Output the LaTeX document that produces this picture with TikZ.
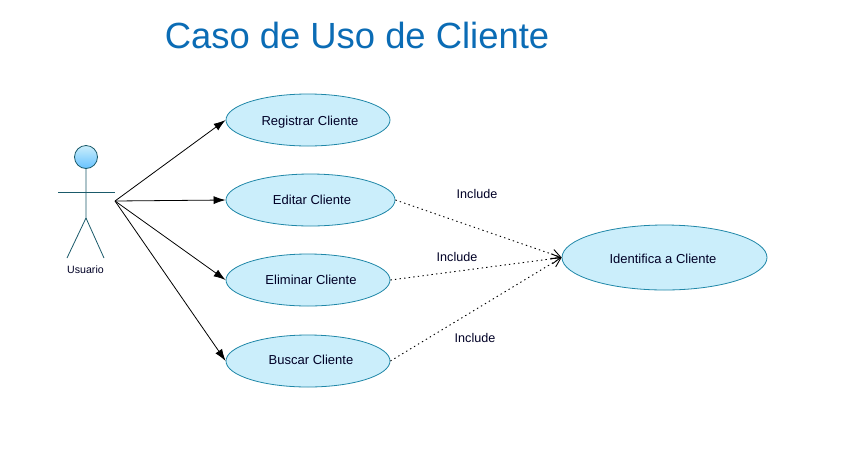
\documentclass[tikz,border=0pt]{standalone}
\usepackage{fontspec}
\setmainfont{Liberation Sans}
\usetikzlibrary{shapes.geometric,arrows.meta}
\definecolor{uefill}{HTML}{CBEEFB}
\definecolor{uedraw}{HTML}{1F87A8}
\definecolor{actline}{HTML}{1A5A6A}
\definecolor{titleblue}{HTML}{0B6CB5}
\newcommand{\ucshift}[1]{\hspace*{#1}}
\tikzset{
  usecase/.style={ellipse,draw=uedraw,fill=uefill,line width=0.8pt,inner sep=0pt,font=\fontsize{13}{14}\selectfont,text=black!85!blue,text depth=2.7pt},
  assoc/.style={-{Latex[length=12pt,width=8pt]},line width=0.8pt,black},
  incl/.style={-{Straight Barb[length=9pt,width=10pt]},line width=0.9pt,black,dash pattern=on 1.4pt off 3.2pt},
  lbl/.style={font=\fontsize{12.6}{14}\selectfont,text=black!85!blue},
  actorline/.style={actline,line width=0.8pt}
}
\begin{document}
\begin{tikzpicture}[x=1pt,y=-1pt]
\useasboundingbox (0,0) rectangle (850,464);
\fill[white] (0,0) rectangle (850,464);
\node[font=\fontsize{36.4}{40}\selectfont,text=titleblue] (title) at (357,35) {Caso de Uso de Cliente};
% actor
\node[circle,draw=actline,line width=0.8pt,minimum size=23pt,inner sep=0pt,top color=uefill,bottom color=cyan!60!blue!60] (head) at (86,157) {};
\coordinate (hip) at (86,218);
\coordinate (larm) at (58,192);
\coordinate (rarm) at (115,192);
\coordinate (lfoot) at (67,258);
\coordinate (rfoot) at (104,258);
\draw[actorline] (head.south) -- (hip) -- (lfoot);
\draw[actorline] (hip) -- (rfoot);
\draw[actorline] (larm) -- (rarm);
\node[font=\fontsize{10.6}{12}\selectfont,text=black!85!blue] (usuario) at (85.5,269.5) {Usuario};
\coordinate (hub) at (115,201);
% use cases
\node[usecase,minimum width=164pt,minimum height=52pt,text height=13pt] (reg) at (308,120) {\ucshift{4pt}Registrar Cliente};
\node[usecase,minimum width=169pt,minimum height=52pt,text height=12pt] (edi) at (310.5,200) {\ucshift{3pt}Editar Cliente};
\node[usecase,minimum width=164pt,minimum height=52pt,text height=12pt] (eli) at (308,280) {\ucshift{6pt}Eliminar Cliente};
\node[usecase,minimum width=164pt,minimum height=52pt,text height=10.5pt] (bus) at (308,361) {\ucshift{6pt}Buscar Cliente};
\node[usecase,minimum width=205pt,minimum height=65pt,text height=14pt] (ide) at (664.5,257.5) {Identifica a Cliente\ucshift{3pt}};
% associations
\draw[assoc] (hub) -- (reg.west);
\draw[assoc] (hub) -- (edi.west);
\draw[assoc] (hub) -- (eli.west);
\draw[assoc] (hub) -- (bus.west);
% includes
\draw[incl] (edi.east) -- (ide.west);
\draw[incl] (eli.east) -- (ide.west);
\draw[incl] (bus.east) -- (ide.west);
\node[lbl] (l1) at (477,193.5) {Include};
\node[lbl] (l2) at (457,256.5) {Include};
\node[lbl] (l3) at (475,337.5) {Include};
\end{tikzpicture}
\end{document}
